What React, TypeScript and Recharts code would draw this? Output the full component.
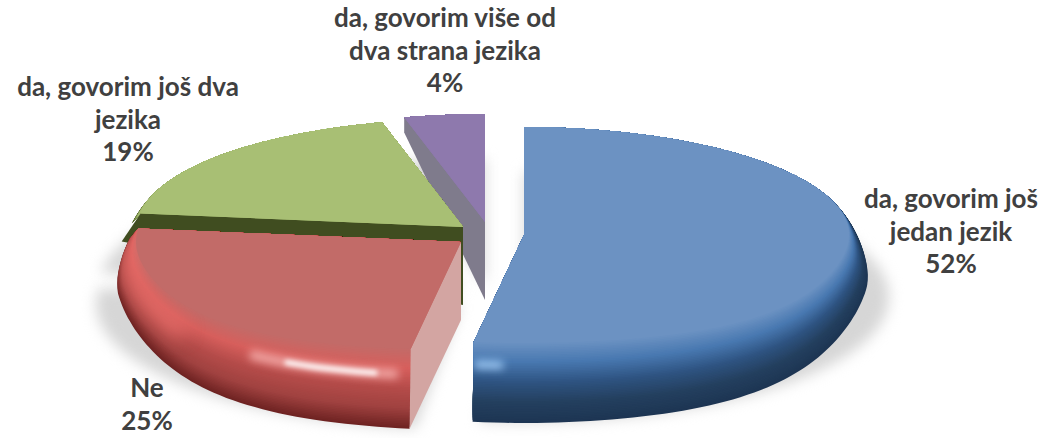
import React from 'react';
import { PieChart, Pie } from 'recharts';

// drawn back to front, so the list runs counter-clockwise from 12 o'clock
const categories = ['da, govorim više od dva strana jezika', 'da, govorim još dva jezika', 'Ne', 'da, govorim još jedan jezik'];
const percentages = [4, 19, 25, 52];
const labelLines = [
  ['da, govorim više od', 'dva strana jezika'],
  ['da, govorim još dva', 'jezika'],
  ['Ne'],
  ['da, govorim još', 'jedan jezik'],
];

const pieData = categories.map((name, i) => ({ name, value: percentages[i] }));

const FACE_RX = 325;
const FACE_RY = 108;
const OUTER_RX = 346;
const OUTER_RY = 158;
const OUTER_DROP = 30;
const WALL = 78;
const PERSPECTIVE = 0.24;
const LAYERS = 48;

const looks = [
  {
    dx: -39, dy: -13, face: '#8e79ad', wall: '#7f7b8c', wallTip: { x: 0, y: 15 }, rim: ['#5d4a7a', '#75609a', '#8e79ad', '#8e79ad'],
    label: { x: 445, y: 27 }, glints: [],
  },
  {
    dx: -61, dy: -8, face: '#a8bf74', wall: '#404d20', wallTip: { x: -10, y: 18 }, rim: ['#4c5c26', '#7d9450', '#a8bf74', '#a8bf74'],
    label: { x: 128, y: 96 }, glints: [],
  },
  {
    dx: -63, dy: 7, face: '#c26b68', wall: '#d3a5a2', wallTip: { x: 0, y: 0 }, rim: ['#6f2322', '#a04240', '#b54c4a', '#d75f5c', '#c26b68'],
    label: { x: 147, y: 397 },
    glints: [
      { from: 172, to: 218, s: 0.6, color: '#e96e6a', width: 14, blur: 9 },
      { from: 236, to: 261, s: 0.68, color: '#f2a8a6', width: 9, blur: 4 },
      { from: 243, to: 258, s: 0.68, color: '#ffffff', width: 5, blur: 2.5 },
    ],
  },
  {
    dx: 0, dy: 0, face: '#6c92c2', wall: null, wallTip: { x: 0, y: 0 }, rim: ['#1d3553', '#24405f', '#2f5482', '#4878b0', '#6c92c2'],
    label: { x: 951, y: 208 },
    glints: [{ from: 263, to: 267, s: 0.72, color: '#a8d2fb', width: 7, blur: 4 }],
  },
];

const mix = (a: string, b: string, t: number) => {
  const ch = (c: string, i: number) => parseInt(c.slice(1 + i * 2, 3 + i * 2), 16);
  const out = [0, 1, 2].map((i) => Math.round(ch(a, i) + (ch(b, i) - ch(a, i)) * t));
  return `rgb(${out.join(',')})`;
};

const ramp = (stops: string[], s: number) => {
  const pos = s * (stops.length - 1);
  const i = Math.min(Math.floor(pos), stops.length - 2);
  return mix(stops[i], stops[i + 1], pos - i);
};

// the near part of the pie spreads a little wider, the far part stays as it is
const spread = (v: number) => 1 + PERSPECTIVE * Math.pow(Math.max(v, 0), 3);

const facePoint = (cx: number, cy: number, deg: number) => {
  const a = (deg * Math.PI) / 180;
  const v = -Math.sin(a);
  return { x: cx + FACE_RX * Math.cos(a) * spread(v), y: cy + FACE_RY * v };
};

const outerPoint = (cx: number, cy: number, deg: number) => {
  const a = (deg * Math.PI) / 180;
  const v = -Math.sin(a);
  const k = Math.max(0, Math.min(1, (v + 0.35) / 0.5));
  const t = k * k * (3 - 2 * k);
  // right at the front the rim falls straight down, so the cut edge stays upright
  const side = Math.min(1, Math.abs(Math.cos(a)) / 0.35);
  const rx = FACE_RX + (OUTER_RX - FACE_RX) * t * side;
  const ry = FACE_RY + (OUTER_RY - FACE_RY) * t;
  return { x: cx + rx * Math.cos(a) * spread(v), y: cy + OUTER_DROP * t + ry * v };
};

const layerPoint = (cx: number, cy: number, deg: number, s: number) => {
  const o = outerPoint(cx, cy, deg);
  const f = facePoint(cx, cy, deg);
  return { x: o.x + (f.x - o.x) * s, y: o.y + (f.y - o.y) * s };
};

const arcPoints = (from: number, to: number, fn: (deg: number) => { x: number; y: number }) => {
  const pts = [];
  const steps = Math.max(2, Math.ceil(Math.abs(to - from) / 1.5));
  for (let i = 0; i <= steps; i++) pts.push(fn(from + ((to - from) * i) / steps));
  return pts;
};

const toPath = (pts: { x: number; y: number }[], close = true) =>
  pts.map((p, i) => `${i ? 'L' : 'M'}${p.x.toFixed(1)} ${p.y.toFixed(1)}`).join('') + (close ? 'Z' : '');

const lookOf = (props: any) => looks[categories.indexOf(props.name ?? props.payload?.name)];

const ShadowSlice = (props: any) => {
  const look = lookOf(props);
  const { cx, cy, startAngle, endAngle } = props;
  const apex = { x: cx + look.dx, y: cy + look.dy + 62 };
  const rim = arcPoints(startAngle, endAngle, (deg) => {
    const a = (deg * Math.PI) / 180;
    return { x: apex.x + 365 * Math.cos(a), y: apex.y - 125 * Math.sin(a) };
  });
  return <path d={toPath([apex, ...rim])} fill="#d6d6d6" style={{ filter: 'blur(7px)' }} />;
};

const Slice3D = (props: any) => {
  const look = lookOf(props);
  const { startAngle, endAngle } = props;
  const cx = props.cx + look.dx;
  const cy = props.cy + look.dy;
  const from = Math.min(startAngle, endAngle);
  const to = Math.max(startAngle, endAngle);
  const apex = { x: cx, y: cy };
  const faceFrom = facePoint(cx, cy, from);
  const faceTo = facePoint(cx, cy, to);
  const clipId = `slice-clip-${categories.indexOf(props.name ?? props.payload?.name)}`;

  const bandPath = (s: number) =>
    toPath([apex, faceFrom, ...arcPoints(from, to, (deg) => layerPoint(cx, cy, deg, s)), faceTo]);

  // the cut face that looks at the viewer, on the clockwise-start side
  const outerEnd = outerPoint(cx, cy, to);
  const wallEnd = { x: outerEnd.x + look.wallTip.x, y: outerEnd.y + look.wallTip.y };
  const wall = toPath([apex, { x: cx, y: cy + WALL }, wallEnd, faceTo]);

  return (
    <g>
      <clipPath id={clipId}>
        <path d={bandPath(0)} />
      </clipPath>
      {Array.from({ length: LAYERS }, (_, i) => {
        const s = i / LAYERS;
        return <path key={i} d={bandPath(s)} fill={ramp(look.rim, s)} />;
      })}
      <g clipPath={`url(#${clipId})`}>
        {look.glints.map((g, i) => (
          <path
            key={i}
            d={toPath(arcPoints(g.from, g.to, (deg) => layerPoint(cx, cy, deg, g.s)), false)}
            fill="none"
            stroke={g.color}
            strokeWidth={g.width}
            style={{ filter: `blur(${g.blur}px)` }}
          />
        ))}
      </g>
      {look.wall && <path d={wall} fill={look.wall} />}
      <path d={bandPath(1)} fill={look.face} />
    </g>
  );
};

const renderLabel = (props: any) => {
  const i = categories.indexOf(props.name ?? props.payload?.name);
  const { x, y } = looks[i].label;
  const lines = [...labelLines[i], `${percentages[i]}%`];
  return (
    <text
      key={i}
      x={x}
      y={y}
      textAnchor="middle"
      fill="#404040"
      fontFamily="Lato, sans-serif"
      fontWeight={700}
      fontSize={26}
    >
      {lines.map((line, n) => (
        <tspan key={n} x={x} y={y + n * 32.5}>
          {line}
        </tspan>
      ))}
    </text>
  );
};

const App = () => {
  return (
    <div style={{ position: 'absolute', left: 0, top: 0, width: 1045, height: 438, background: '#fff' }}>
      <PieChart width={1045} height={438} margin={{ top: 0, right: 0, bottom: 0, left: 0 }}>
        <Pie
          data={pieData}
          dataKey="value"
          nameKey="name"
          cx={524}
          cy={235}
          outerRadius={325}
          startAngle={90}
          endAngle={450}
          stroke="none"
          shape={ShadowSlice}
          isAnimationActive={false}
        />
        <Pie
          data={pieData}
          dataKey="value"
          nameKey="name"
          cx={524}
          cy={235}
          outerRadius={325}
          startAngle={90}
          endAngle={450}
          stroke="none"
          shape={Slice3D}
          label={renderLabel}
          labelLine={false}
          isAnimationActive={false}
        />
      </PieChart>
    </div>
  );
};

export default App;
